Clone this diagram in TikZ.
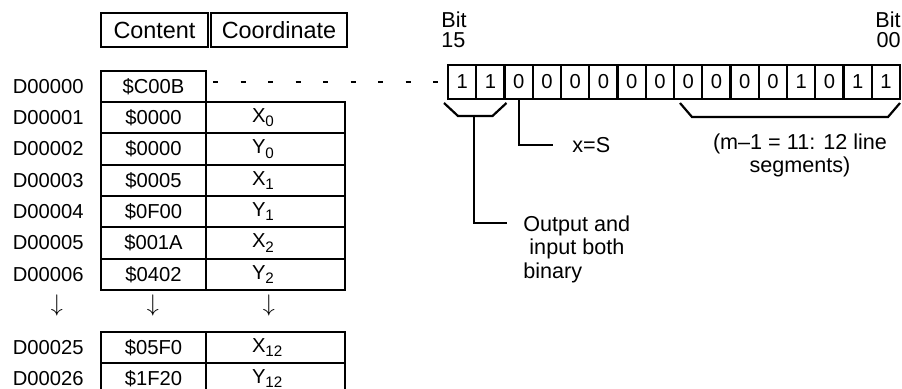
\documentclass[tikz,border=0pt]{standalone}
\usepackage{fontspec}
\setmainfont{Liberation Sans}
\usetikzlibrary{positioning}
\newcommand{\idx}[1]{\raisebox{-2.2pt}{\fontsize{7.6}{8}\selectfont #1}}
\tikzset{
  hdrbox/.style={draw, line width=1.1pt, minimum height=17pt, inner sep=0pt,
    font=\fontsize{11.7}{13}\selectfont},
  cell/.style={draw, line width=1.1pt, minimum width=52.5pt, minimum height=15.67pt,
    inner sep=0pt, outer sep=0pt, font=\fontsize{10.1}{12}\selectfont},
  coordcell/.style={cell, minimum width=69.5pt, text width=23.5pt, inner xsep=23pt,
    align=left},
  rowlabel/.style={inner sep=0pt, font=\fontsize{10.1}{12}\selectfont},
  bitbox/.style={draw, line width=1.1pt, minimum width=14.125pt, minimum height=17pt,
    inner sep=0pt, outer sep=0pt, font=\fontsize{10.1}{12}\selectfont},
  bitlabel/.style={inner sep=0pt, font=\fontsize{10.8}{10.2}\selectfont},
  note/.style={inner sep=0pt, font=\fontsize{10.8}{11.75}\selectfont},
  downmark/.style={inner sep=0pt, font=\fontsize{12.4}{14}\selectfont},
  bracket/.style={line width=1.1pt},
  lead/.style={line width=1.1pt},
  gapline/.style={line width=0.6pt, dash pattern=on 2.5pt off 11.25pt, dash phase=10.25pt}
}
\begin{document}
\begin{tikzpicture}[x=0.5pt, y=-0.5pt]
  \useasboundingbox (0,0) rectangle (902,389);
  \fill[white] (0,0) rectangle (902,389);
  % column headers
  \node[hdrbox, minimum width=53.5pt] (hcont) at (154.5,30) {Content};
  \node[hdrbox, minimum width=68pt] (hcoord) at (279,30) {Coordinate};
  % data registers
  \node[cell] (c0) at (153.5,86.3) {\$C00B};
  \node[cell, below=0pt of c0] (c1) {\$0000};
  \node[cell, below=0pt of c1] (c2) {\$0000};
  \node[cell, below=0pt of c2] (c3) {\$0005};
  \node[cell, below=0pt of c3] (c4) {\$0F00};
  \node[cell, below=0pt of c4] (c5) {\$001A};
  \node[cell, below=0pt of c5] (c6) {\$0402};
  \node[coordcell, right=0pt of c1] (k1) {X\idx{0}};
  \node[coordcell, right=0pt of c2] (k2) {Y\idx{0}};
  \node[coordcell, right=0pt of c3] (k3) {X\idx{1}};
  \node[coordcell, right=0pt of c4] (k4) {Y\idx{1}};
  \node[coordcell, right=0pt of c5] (k5) {X\idx{2}};
  \node[coordcell, right=0pt of c6] (k6) {Y\idx{2}};
  \node[cell] (c25) at (153.5,347.3) {\$05F0};
  \node[cell, below=0pt of c25] (c26) {\$1F20};
  \node[coordcell, right=0pt of c25] (k25) {X\idx{12}};
  \node[coordcell, right=0pt of c26] (k26) {Y\idx{12}};
  \node[rowlabel, left=8.5pt of c0] (d0) {D00000};
  \node[rowlabel, left=8.5pt of c1] (d1) {D00001};
  \node[rowlabel, left=8.5pt of c2] (d2) {D00002};
  \node[rowlabel, left=8.5pt of c3] (d3) {D00003};
  \node[rowlabel, left=8.5pt of c4] (d4) {D00004};
  \node[rowlabel, left=8.5pt of c5] (d5) {D00005};
  \node[rowlabel, left=8.5pt of c6] (d6) {D00006};
  \node[rowlabel, left=8.5pt of c25] (d25) {D00025};
  \node[rowlabel, left=8.5pt of c26] (d26) {D00026};
  \node[downmark] (ar0) at (57,306) {$\downarrow$};
  \node[downmark] (ar1) at (153,306) {$\downarrow$};
  \node[downmark] (ar2) at (269,306) {$\downarrow$};
  % bit pattern of D00000
  \foreach \b [count=\i from 0] in {1,1,0,0,0,0,0,0,0,0,0,0,1,0,1,1}
    \node[bitbox] (bit\i) at ({448+28.25*(\i+0.5)},82) {\b};
  \node[bitlabel, anchor=north west, align=left] (msb) at (441,11) {Bit\\15};
  \node[bitlabel, anchor=north east, align=right] (lsb) at (901,11) {Bit\\00};
  \draw[gapline] (c0.east |- bit0.west) -- (bit0.west);
  % brackets and notes
  \draw[bracket] ([shift={(-4,4)}]bit0.south west) -- ++(14,13)
    -- ([shift={(-12,17)}]bit1.south east) -- ([shift={(2,4)}]bit1.south east);
  \coordinate (sb) at ([shift={(-2,17)}]bit0.south east);
  \node[note, anchor=north west, align=left] (io) at (523,215)
    {Output and\\\hspace*{0.28em}input both\\binary};
  \draw[lead] (sb) |- ([shift={(-16,8)}]io.north west);
  \node[note, anchor=west] (xs) at (572,145) {x=S};
  \draw[lead] (bit2.south) |- ([shift={(-19,0)}]xs.west);
  \draw[bracket] ([shift={(6,4)}]bit8.south west) -- ++(12,14)
    -- ([shift={(-12,18)}]bit15.south east) -- ([shift={(0,4)}]bit15.south east);
  \node[note, anchor=north, align=center] (seg) at (800,133)
    {(m–1 = 11: 12 line\\segments)};
\end{tikzpicture}
\end{document}
